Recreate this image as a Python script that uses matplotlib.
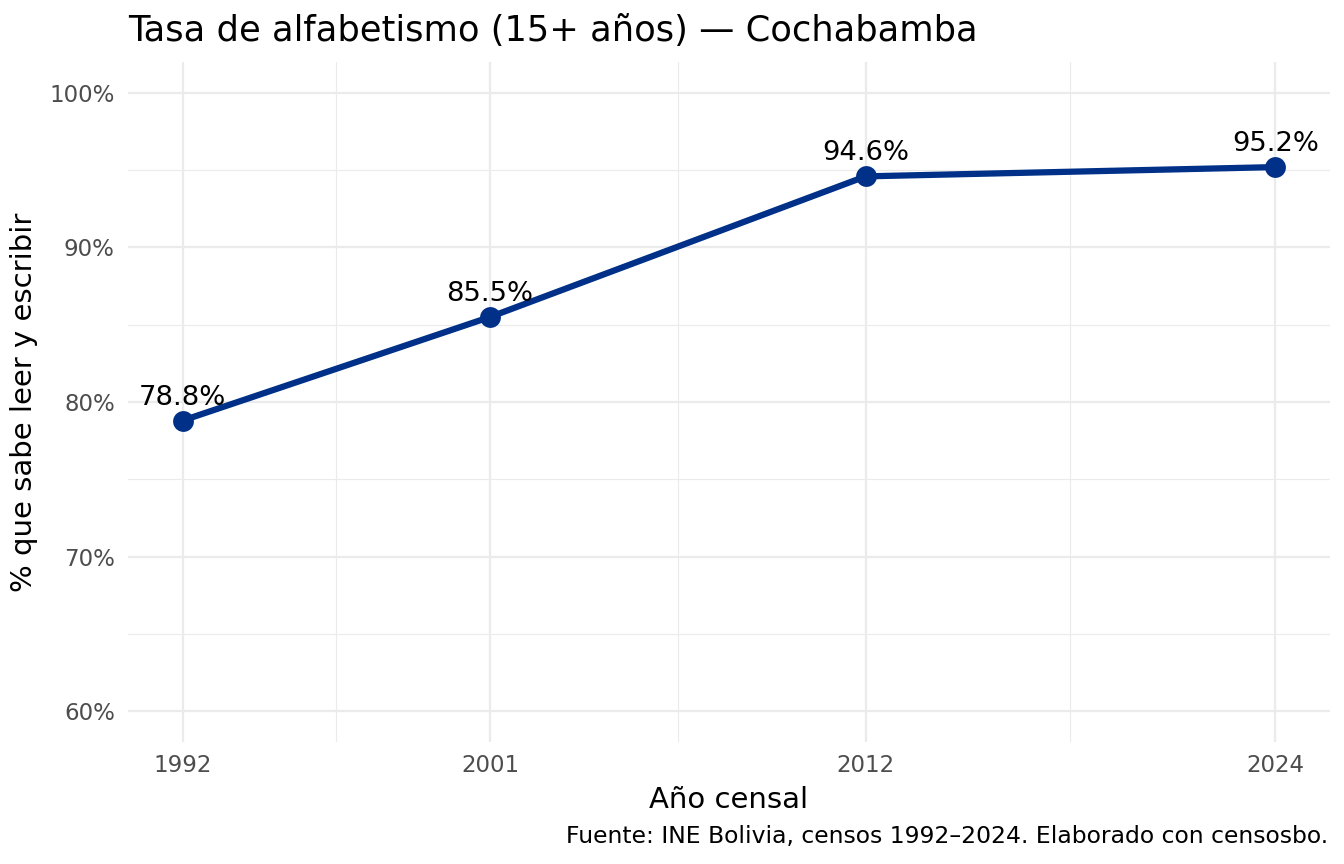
import matplotlib
matplotlib.use("Agg")
import matplotlib.pyplot as plt
from matplotlib.ticker import FixedLocator, FuncFormatter

years = [1992, 2001, 2012, 2024]
rates = [78.8, 85.5, 94.6, 95.2]
labels = ["78.8%", "85.5%", "94.6%", "95.2%"]
y_ticks = [60, 70, 80, 90, 100]
y_minor = [65, 75, 85, 95]
x_minor = [1996.5, 2006.5, 2018]

title = "Tasa de alfabetismo (15+ años) — Cochabamba"
xlabel = "Año censal"
ylabel = "% que sabe leer y escribir"
caption = "Fuente: INE Bolivia, censos 1992–2024. Elaborado con censosbo."

plt.rcParams['font.family'] = ['DejaVu Sans']
fig = plt.figure(figsize=(13.44, 8.64), dpi=100)
ax = fig.add_axes([128/1344, 1-742/864, (1330-128)/1344, (742-62)/864])

color = "#003087"
ax.plot(years, rates, color=color, linewidth=4.5, solid_capstyle='butt', zorder=3)
ax.scatter(years, rates, s=15**2, color=color, zorder=4, linewidths=0)
for x, y, t in zip(years, rates, labels):
    ax.annotate(t, (x, y), xytext=(0, 11.5), textcoords='offset points',
                ha='center', va='baseline', fontsize=19.7, color='black', zorder=5)

ax.set_xlim(1990.4, 2025.6)
ax.set_ylim(58, 102)
ax.xaxis.set_major_locator(FixedLocator(years))
ax.xaxis.set_minor_locator(FixedLocator(x_minor))
ax.yaxis.set_major_locator(FixedLocator(y_ticks))
ax.yaxis.set_minor_locator(FixedLocator(y_minor))
ax.yaxis.set_major_formatter(FuncFormatter(lambda v, p: f"{v:.0f}%"))
ax.xaxis.set_major_formatter(FuncFormatter(lambda v, p: f"{v:.0f}"))

ax.grid(which='major', color='#EBEBEB', linewidth=1.6)
ax.grid(which='minor', color='#EBEBEB', linewidth=0.8)
ax.set_axisbelow(True)
for s in ax.spines.values():
    s.set_visible(False)
ax.tick_params(which='both', length=0)
ax.tick_params(axis='y', labelsize=16.5, labelcolor='#4D4D4D', pad=9.5)
ax.tick_params(axis='x', labelsize=16.5, labelcolor='#4D4D4D', pad=9)

ax.set_xlabel(xlabel, fontsize=21, labelpad=6)
ax.set_ylabel(ylabel, fontsize=21, labelpad=8)

fig.text(128/1344, 1-41/864, title, fontsize=25.4, ha='left', va='baseline')
fig.text(1328/1344, 1-843/864, caption, fontsize=16.9, ha='right', va='baseline')

fig.savefig("out.png", dpi=100)
